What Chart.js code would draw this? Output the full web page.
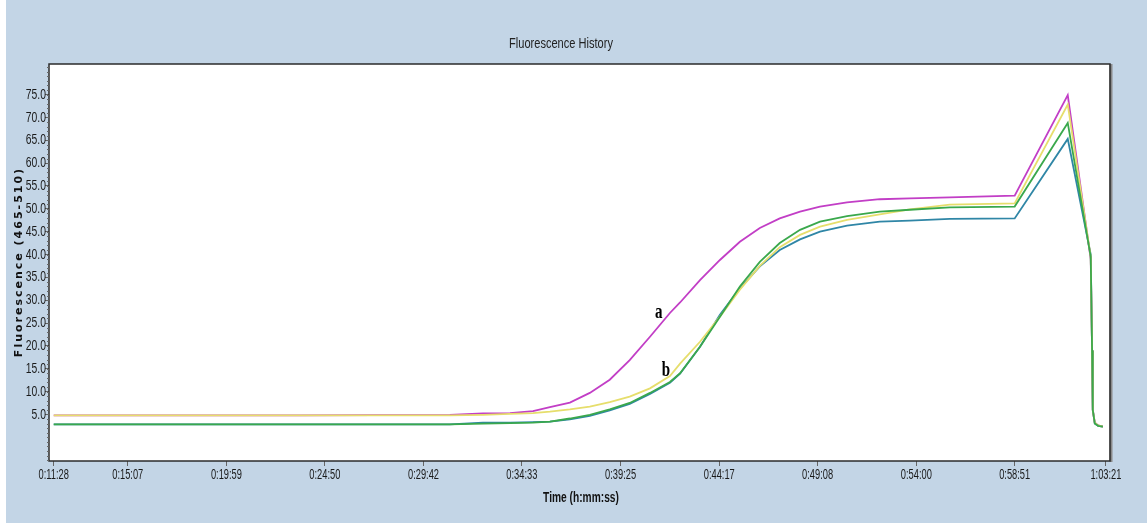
<!DOCTYPE html>
<html>
<head>
<meta charset="utf-8">
<script src="https://cdn.jsdelivr.net/npm/chart.js@4.4.1/dist/chart.umd.min.js"></script>
<style>
  html, body { margin: 0; padding: 0; background: #ffffff; }
  #wrap { width: 1147px; height: 527px; }
</style>
</head>
<body>
<div id="wrap"><canvas id="c" width="1147" height="527"></canvas></div>
<script>
// ---- data ----
const tickLabels = ['0:11:28','0:15:07','0:19:59','0:24:50','0:29:42','0:34:33','0:39:25','0:44:17','0:49:08','0:54:00','0:58:51','1:03:21'];
const yTickValues = [5,10,15,20,25,30,35,40,45,50,55,60,65,70,75];

const timeSec = [688,1003,1417,1860,1958,2038,2106,2156,2215,2274,
                 2333,2392,2452,2511,2541,2600,2659,2718,2777,2836,
                 2896,2955,3035,3132,3221,3339,3531,3688,3756,3760,
                 3762,3768,3778,3792];

const seriesA = [4.8,4.8,4.8,4.9,5.2,5.3,5.7,6.6,7.6,9.7,
                 12.6,16.9,22.0,27.2,29.5,34.4,38.8,42.8,45.8,47.9,
                 49.4,50.5,51.4,52.1,52.3,52.5,52.9,74.9,39.0,19.0,
                 6.0,3.2,2.6,2.3];
const seriesB = [4.8,4.8,4.8,4.8,4.9,5.1,5.3,5.6,6.1,6.7,
                 7.7,8.9,10.7,13.4,16.1,20.9,26.4,32.3,37.5,41.6,
                 44.3,46.1,47.6,48.8,49.9,50.9,51.2,72.8,39.5,19.0,
                 6.0,3.2,2.6,2.3];
const seriesGreen = [2.8,2.8,2.8,2.8,3.0,3.1,3.2,3.4,4.1,4.9,
                 6.1,7.5,9.7,12.1,14.0,19.8,26.4,33.0,38.4,42.5,
                 45.4,47.2,48.4,49.4,49.8,50.3,50.5,68.8,39.5,19.0,
                 6.0,3.0,2.5,2.3];
const seriesTeal = [2.8,2.8,2.8,2.8,3.2,3.2,3.3,3.4,3.9,4.7,
                 5.9,7.3,9.5,11.9,13.9,19.8,26.8,32.6,37.4,41.0,
                 43.3,45.0,46.3,47.2,47.4,47.8,47.9,65.3,40.0,19.0,
                 6.0,3.0,2.5,2.3];

const annotations = [
  { text: 'a', t: 2478, v: 27.3 },
  { text: 'b', t: 2499, v: 14.6 }
];

const titleText = 'Fluorescence History';
const xTitle = 'Time (h:mm:ss)';
const yTitle = 'Fluorescence (465-510)';

// ---- helpers ----
const toSec = s => { const p = s.split(':').map(Number); return p[0]*3600 + p[1]*60 + p[2]; };
const tickSec = tickLabels.map(toSec);
const pts = arr => timeSec.map((t, i) => ({ x: t, y: arr[i] }));

const BG = '#c3d5e6';
const SANS = '"Liberation Sans", Arial, sans-serif';

function narrowText(ctx, text, x, y, sx, align) {
  ctx.save();
  ctx.translate(x, y);
  ctx.scale(sx, 1);
  ctx.textAlign = align || 'center';
  ctx.fillText(text, 0, 0);
  ctx.restore();
}

const decor = {
  id: 'decor',
  beforeDraw(chart) {
    const ctx = chart.ctx, a = chart.chartArea;
    ctx.save();
    ctx.fillStyle = '#ffffff';
    ctx.fillRect(0, 0, chart.width, chart.height);
    ctx.fillStyle = BG;
    ctx.fillRect(6, 0, chart.width - 6, chart.height - 4);
    ctx.fillStyle = '#ffffff';
    ctx.fillRect(a.left, a.top, a.right - a.left, a.bottom - a.top);
    ctx.restore();
  },
  afterDraw(chart) {
    const ctx = chart.ctx, a = chart.chartArea;
    const ys = chart.scales.y, xs = chart.scales.x;
    ctx.save();
    // frame
    ctx.strokeStyle = '#8a8a8a';
    ctx.lineWidth = 3;
    ctx.beginPath();
    ctx.moveTo(a.right + 1, a.top);
    ctx.lineTo(a.right + 1, a.bottom + 1);
    ctx.stroke();
    ctx.strokeStyle = '#2b2b2b';
    ctx.lineWidth = 1.5;
    ctx.strokeRect(a.left, a.top, a.right - a.left, a.bottom - a.top);
    // minor y ticks
    ctx.strokeStyle = '#666';
    ctx.lineWidth = 1;
    for (let v = -5; v <= 81; v++) {
      const py = Math.round(ys.getPixelForValue(v)) + 0.5;
      ctx.beginPath();
      ctx.moveTo(a.left - 2, py);
      ctx.lineTo(a.left, py);
      ctx.stroke();
    }
    ctx.fillStyle = '#1a1a1a';
    ctx.textBaseline = 'middle';
    // y tick labels
    ctx.font = '15px ' + SANS;
    yTickValues.forEach(v => {
      narrowText(ctx, v.toFixed(1), a.left - 3, ys.getPixelForValue(v), 0.69, 'right');
    });
    // x tick labels
    ctx.font = '15px ' + SANS;
    tickLabels.forEach((lab, i) => {
      narrowText(ctx, lab, xs.getPixelForValue(tickSec[i]), 475, 0.62, 'center');
    });
    // title
    ctx.fillStyle = '#222';
    ctx.font = '14px ' + SANS;
    narrowText(ctx, titleText, 561, 44, 0.79, 'center');
    // x title
    ctx.fillStyle = '#111';
    ctx.font = 'bold 15px ' + SANS;
    narrowText(ctx, xTitle, 581, 498, 0.68, 'center');
    // y title
    ctx.save();
    ctx.translate(19, 262);
    ctx.rotate(-Math.PI / 2);
    ctx.font = 'bold 11px "DejaVu Sans", sans-serif';
    ctx.letterSpacing = '2px';
    ctx.textAlign = 'center';
    ctx.fillText(yTitle, 0, 0);
    ctx.restore();
    // curve labels
    ctx.font = 'bold 20px "Liberation Serif", serif';
    ctx.fillStyle = '#000';
    annotations.forEach(an => {
      narrowText(ctx, an.text, xs.getPixelForValue(an.t), ys.getPixelForValue(an.v), 0.75, 'center');
    });
    ctx.restore();
  }
};

const mk = (label, arr, color, order) => ({
  label, data: pts(arr), borderColor: color, backgroundColor: color,
  borderWidth: 1.8, pointRadius: 0, tension: 0, fill: false, order
});

new Chart(document.getElementById('c'), {
  type: 'line',
  data: {
    datasets: [
      mk('a', seriesA, '#c23ec6', 3),
      mk('b', seriesB, '#e6de6c', 2),
      mk('green', seriesGreen, '#3aa84c', 1),
      mk('teal', seriesTeal, '#2f86a6', 4)
    ]
  },
  options: {
    responsive: false,
    animation: false,
    devicePixelRatio: 1,
    layout: { padding: { top: 64, right: 37, left: 0, bottom: 0 } },
    plugins: { legend: { display: false }, title: { display: false }, tooltip: { enabled: false } },
    scales: {
      x: {
        type: 'linear',
        min: 674, max: 3813,
        afterBuildTicks: s => { s.ticks = tickSec.map(v => ({ value: v })); },
        afterFit: s => { s.height = 66; },
        border: { display: false },
        grid: { drawOnChartArea: false, drawTicks: true, tickLength: 5, color: '#666' },
        ticks: { display: false, autoSkip: false, maxRotation: 0 }
      },
      y: {
        type: 'linear',
        min: -5.2, max: 81.7,
        afterBuildTicks: s => { s.ticks = yTickValues.map(v => ({ value: v })); },
        afterFit: s => { s.width = 49; },
        border: { display: false },
        grid: { drawOnChartArea: false, drawTicks: true, tickLength: 4, color: '#666' },
        ticks: { display: false }
      }
    }
  },
  plugins: [decor]
});
</script>
</body>
</html>
